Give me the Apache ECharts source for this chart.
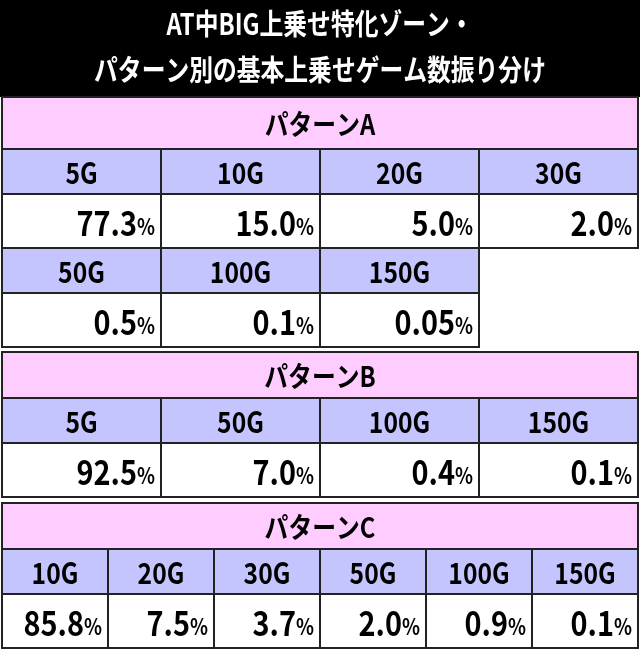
<!DOCTYPE html>
<html><head><meta charset="utf-8">
<script src="https://cdn.jsdelivr.net/npm/echarts@6/dist/echarts.min.js"></script>
<style>html,body{margin:0;padding:0;background:#fff}#c{width:640px;height:650px}</style>
</head><body><div id="c"></div>
<script>
var titleLines = ['AT中BIG上乗せ特化ゾーン・', 'パターン別の基本上乗せゲーム数振り分け'];
var patternNames = ['パターンA', 'パターンB', 'パターンC'];
var patA_games = ['5G','10G','20G','30G','50G','100G','150G'];
var patA_vals = ['77.3','15.0','5.0','2.0','0.5','0.1','0.05'];
var patB_games = ['5G','50G','100G','150G'];
var patB_vals = ['92.5','7.0','0.4','0.1'];
var patC_games = ['10G','20G','30G','50G','100G','150G'];
var patC_vals = ['85.8','7.5','3.7','2.0','0.9','0.1'];

var sections = [
  {name: patternNames[0], games: patA_games, vals: patA_vals, cols: 4, top: 97},
  {name: patternNames[1], games: patB_games, vals: patB_vals, cols: 4, top: 352},
  {name: patternNames[2], games: patC_games, vals: patC_vals, cols: 6, top: 503}
];
var L = 2, R = 638, W = R - L;
var FONT = '"Noto Sans CJK JP", sans-serif';
var rects = [], texts = [];
rects.push({type:'rect', shape:{x:0,y:0,width:640,height:97}, style:{fill:'#000'}});
titleLines.forEach(function(t,i){
  texts.push({type:'text', x:320, y:24+i*46, scaleX:0.82, originX:0, originY:0, style:{text:t, fill:'#fff', font:'bold 29px '+FONT, align:'center', verticalAlign:'middle'}});
});
sections.forEach(function(s, si){
  var y = s.top;
  var hH = (si===0)?52:46;
  rects.push({type:'rect', shape:{x:L,y:y,width:W,height:hH}, style:{fill:'#FFCCFF', stroke:'#222', lineWidth:2}});
  texts.push({type:'text', x:320, y:y+hH/2+1, scaleX:0.85, originX:0, originY:0, style:{text:s.name, fill:'#000', font:'bold 28px '+FONT, align:'center', verticalAlign:'middle'}});
  y += hH;
  var cw = W / s.cols;
  var rows = Math.ceil(s.games.length / s.cols);
  var gh = 45, vh = 54;
  for (var r=0; r<rows; r++){
    for (var c=0; c<s.cols; c++){
      var k = r*s.cols + c;
      if (k >= s.games.length) continue;
      var x = L + c*cw;
      rects.push({type:'rect', shape:{x:x,y:y,width:cw,height:gh}, style:{fill:'#C4C4FF', stroke:'#222', lineWidth:2}});
      texts.push({type:'text', x:x+cw/2, y:y+gh/2+1, scaleX:0.85, originX:0, originY:0, style:{text:s.games[k], fill:'#000', font:'bold 29px '+FONT, align:'center', verticalAlign:'middle'}});
      rects.push({type:'rect', shape:{x:x,y:y+gh,width:cw,height:vh}, style:{fill:'#fff', stroke:'#222', lineWidth:2}});
      texts.push({type:'text', x:x+cw-6, y:y+gh+vh/2+2, scaleX:0.85, originX:0, originY:0, style:{
        text:'{v|'+s.vals[k]+'}{p|%}', align:'right', verticalAlign:'middle',
        rich:{v:{font:'bold 34px '+FONT, fill:'#000'}, p:{font:'bold 22px '+FONT, fill:'#000', padding:[8,0,0,0]}}}});
    }
    y += gh + vh;
  }
});
var chart = echarts.init(document.getElementById('c'));
chart.setOption({animation:false, graphic:{elements:rects.concat(texts)}});
</script></body></html>
